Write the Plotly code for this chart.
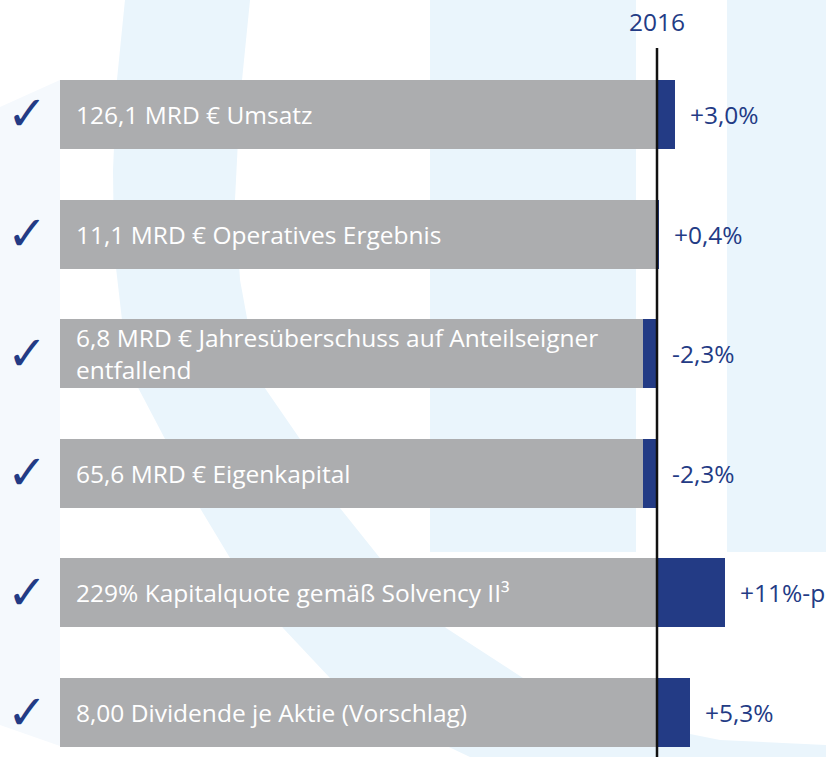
import plotly.graph_objects as go

# kennzahlen 2016
labels = [
    "126,1 MRD € Umsatz",
    "11,1 MRD € Operatives Ergebnis",
    "6,8 MRD € Jahresüberschuss auf Anteilseigner<br>entfallend",
    "65,6 MRD € Eigenkapital",
    "229% Kapitalquote gemäß Solvency II³",
    "8,00 Dividende je Aktie (Vorschlag)",
]
changes = [3.0, 0.4, -2.3, -2.3, 11.0, 5.3]
change_text = ["+3,0%", "+0,4%", "-2,3%", "-2,3%", "+11%-p", "+5,3%"]
year = "2016"

W, H = 826, 757
NAVY = "#233b85"
GREY = "#acadaf"
LIGHT = "#eaf5fc"
FONT = "Open Sans"
PANEL_LEFT = -97.1  # left end of the grey panels (axis units)

rows = list(range(len(labels)))


def px_path(points):
    # background decoration drawn in paper space from pixel positions
    parts = []
    for i, (x, y) in enumerate(points):
        parts.append(("M" if i == 0 else "L") + f"{x / W:.4f},{1 - y / H:.4f}")
    return " ".join(parts) + " Z"


outer = [(125, 0), (117, 80), (113, 170), (114, 250), (122, 320), (133, 378),
         (165, 439), (200, 508), (230, 558), (283, 628), (330, 678),
         (413, 730), (470, 757), (826, 757), (826, 745)]
inner = [(720, 740), (620, 720), (523, 678), (446, 628), (380, 558),
         (340, 508), (300, 439), (258, 378), (240, 280), (235, 200),
         (240, 100), (250, 0)]

shapes = [
    dict(type="path", xref="paper", yref="paper", layer="below",
         path=px_path([(0, 107), (60, 80), (60, 746), (0, 725)]),
         fillcolor="#f5f9fd", line=dict(width=0)),
    dict(type="path", xref="paper", yref="paper", layer="below",
         path=px_path(outer + inner), fillcolor=LIGHT, line=dict(width=0)),
    dict(type="rect", xref="paper", yref="paper", layer="below",
         x0=430 / W, x1=636 / W, y0=1 - 552 / H, y1=1,
         fillcolor=LIGHT, line=dict(width=0)),
    dict(type="rect", xref="paper", yref="paper", layer="below",
         x0=727 / W, x1=1, y0=1 - 552 / H, y1=1,
         fillcolor=LIGHT, line=dict(width=0)),
    # zero line for 2016
    dict(type="line", xref="x", yref="y", x0=0, x1=0, y0=-0.556, y1=5.5,
         line=dict(color="#111111", width=2.5), layer="above"),
]

fig = go.Figure()
fig.add_trace(go.Bar(
    y=rows, x=[-PANEL_LEFT] * len(rows), base=PANEL_LEFT, orientation="h",
    width=0.577, marker=dict(color=GREY, line=dict(width=0)),
    hoverinfo="skip", showlegend=False,
))
fig.add_trace(go.Bar(
    y=rows, x=changes, base=0, orientation="h",
    width=0.577, marker=dict(color=NAVY, line=dict(width=0)),
    showlegend=False,
))

annotations = []
for r, lab, v, t in zip(rows, labels, changes, change_text):
    annotations.append(dict(
        x=PANEL_LEFT, y=r, xref="x", yref="y", text=lab,
        xanchor="left", yanchor="middle", align="left", xshift=14,
        showarrow=False,
        font=dict(family=FONT, size=24.5, color="white"),
    ))
    annotations.append(dict(
        x=max(v, 0), y=r, xref="x", yref="y", text=t,
        xanchor="left", yanchor="middle", xshift=13, showarrow=False,
        font=dict(family=FONT, size=24.5, color=NAVY),
    ))
    annotations.append(dict(
        x=PANEL_LEFT, y=r, xref="x", yref="y", text="✓",
        xanchor="center", yanchor="middle", xshift=-33, yshift=1,
        showarrow=False,
        font=dict(family="DejaVu Sans", size=48, color=NAVY),
    ))

annotations.append(dict(
    x=0, y=-0.556, xref="x", yref="y", text=year,
    xanchor="center", yanchor="bottom", yshift=8, showarrow=False,
    font=dict(family=FONT, size=24.5, color=NAVY),
))

fig.update_layout(
    width=W, height=H,
    margin=dict(l=0, r=0, t=0, b=0),
    paper_bgcolor="white", plot_bgcolor="white",
    barmode="overlay", bargap=0,
    xaxis=dict(range=[-657 / 6.15, (W - 657) / 6.15], visible=False,
               fixedrange=True),
    yaxis=dict(range=[5.372, -0.957], visible=False, fixedrange=True),
    shapes=shapes,
    annotations=annotations,
)

fig.write_html("out.html", config={"displayModeBar": False},
               post_script="document.body.style.margin='0';")
